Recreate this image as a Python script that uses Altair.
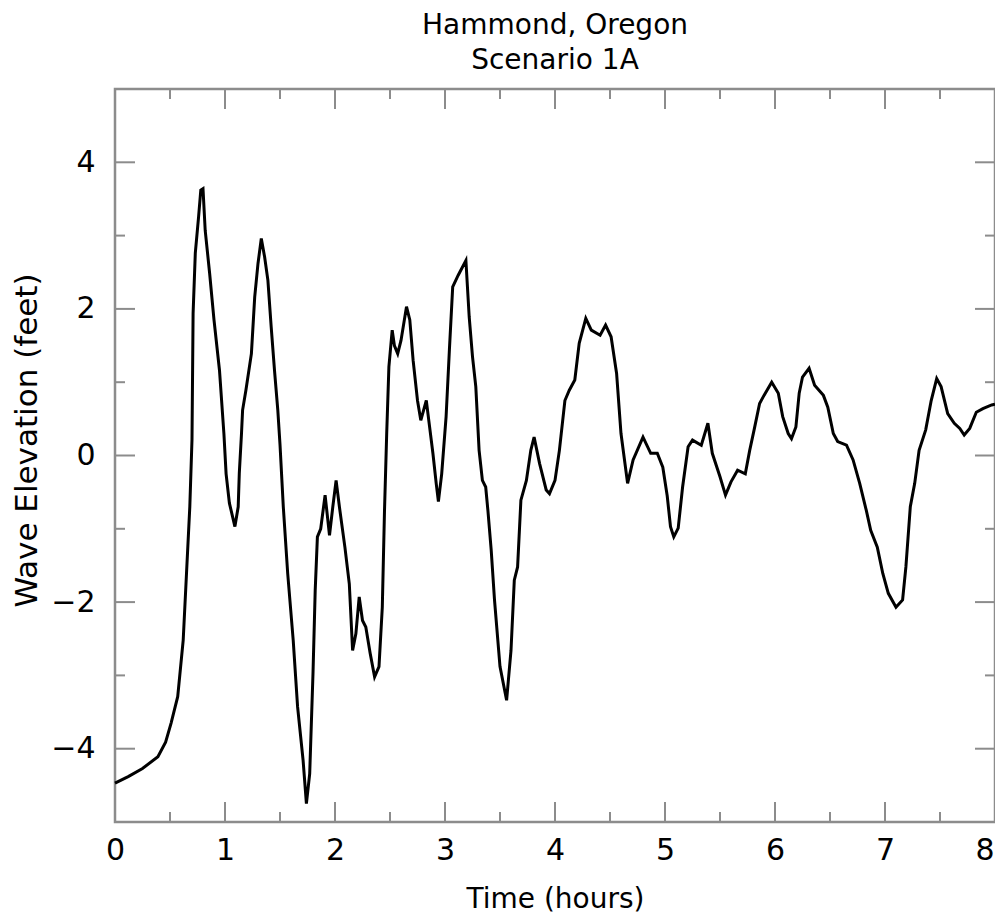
import altair as alt
import pandas as pd

# ---- data ----
time_h = [0.00, 0.12, 0.25, 0.39, 0.46, 0.51, 0.57, 0.62, 0.65, 0.68, 0.70, 0.71, 0.73, 0.76, 0.78, 0.80,
          0.82, 0.86, 0.90, 0.95, 0.99, 1.01, 1.04, 1.09, 1.12, 1.13, 1.15, 1.16, 1.19, 1.24, 1.27, 1.30,
          1.33, 1.36, 1.39, 1.42, 1.45, 1.48, 1.50, 1.53, 1.57, 1.62, 1.66, 1.71, 1.74, 1.77, 1.80, 1.82,
          1.84, 1.87, 1.91, 1.95, 1.98, 2.01, 2.04, 2.09, 2.13, 2.16, 2.19, 2.22, 2.25, 2.28, 2.32, 2.36,
          2.40, 2.43, 2.45, 2.47, 2.49, 2.52, 2.54, 2.57, 2.60, 2.65, 2.68, 2.71, 2.75, 2.78, 2.83, 2.86,
          2.89, 2.92, 2.94, 2.97, 3.01, 3.04, 3.07, 3.12, 3.19, 3.22, 3.25, 3.28, 3.31, 3.34, 3.37, 3.39,
          3.42, 3.45, 3.50, 3.56, 3.60, 3.63, 3.66, 3.69, 3.74, 3.78, 3.81, 3.86, 3.92, 3.95, 4.00, 4.04,
          4.09, 4.13, 4.18, 4.22, 4.28, 4.33, 4.41, 4.46, 4.51, 4.56, 4.60, 4.66, 4.71, 4.80, 4.87, 4.93,
          4.98, 5.02, 5.05, 5.08, 5.12, 5.16, 5.21, 5.25, 5.33, 5.39, 5.43, 5.50, 5.55, 5.60, 5.66, 5.73,
          5.77, 5.81, 5.86, 5.90, 5.97, 6.03, 6.07, 6.12, 6.15, 6.19, 6.22, 6.25, 6.31, 6.36, 6.44, 6.48,
          6.53, 6.57, 6.65, 6.71, 6.77, 6.83, 6.87, 6.93, 6.98, 7.03, 7.10, 7.16, 7.19, 7.23, 7.27, 7.31,
          7.37, 7.42, 7.47, 7.51, 7.57, 7.63, 7.68, 7.72, 7.77, 7.83, 7.89, 7.97, 8.00]
elevation_ft = [-4.47, -4.38, -4.27, -4.11, -3.91, -3.65, -3.29, -2.52, -1.61, -0.70, 0.22, 1.94, 2.76, 3.26, 3.62, 3.64,
                3.07, 2.49, 1.85, 1.16, 0.30, -0.25, -0.65, -0.97, -0.70, -0.24, 0.30, 0.62, 0.89, 1.39, 2.16, 2.62,
                2.96, 2.71, 2.39, 1.75, 1.16, 0.62, 0.15, -0.70, -1.61, -2.52, -3.43, -4.16, -4.75, -4.34, -2.97, -1.84,
                -1.11, -1.00, -0.54, -1.09, -0.70, -0.34, -0.70, -1.25, -1.75, -2.66, -2.43, -1.93, -2.25, -2.34, -2.70, -3.02,
                -2.88, -2.07, -0.75, 0.30, 1.21, 1.71, 1.50, 1.39, 1.57, 2.03, 1.85, 1.30, 0.75, 0.48, 0.75, 0.39,
                0.03, -0.38, -0.63, -0.25, 0.53, 1.44, 2.30, 2.46, 2.66, 1.89, 1.35, 0.94, 0.07, -0.34, -0.43, -0.75,
                -1.29, -1.97, -2.88, -3.34, -2.66, -1.70, -1.52, -0.61, -0.34, 0.07, 0.25, -0.11, -0.47, -0.52, -0.34, 0.07,
                0.75, 0.89, 1.03, 1.53, 1.87, 1.71, 1.64, 1.78, 1.62, 1.12, 0.30, -0.38, -0.06, 0.25, 0.03, 0.03,
                -0.16, -0.55, -0.97, -1.11, -0.99, -0.43, 0.12, 0.21, 0.14, 0.44, 0.03, -0.29, -0.54, -0.36, -0.20, -0.25,
                0.07, 0.35, 0.71, 0.82, 1.00, 0.85, 0.53, 0.30, 0.23, 0.39, 0.85, 1.07, 1.19, 0.96, 0.82, 0.66,
                0.30, 0.19, 0.14, -0.06, -0.38, -0.75, -1.02, -1.25, -1.61, -1.88, -2.07, -1.97, -1.52, -0.70, -0.38, 0.07,
                0.35, 0.75, 1.05, 0.94, 0.57, 0.44, 0.37, 0.28, 0.37, 0.59, 0.64, 0.69, 0.70]

x_major_ticks = [0, 1, 2, 3, 4, 5, 6, 7, 8]
x_minor_ticks = [0.5, 1.5, 2.5, 3.5, 4.5, 5.5, 6.5, 7.5]
y_major_ticks = [-4, -2, 0, 2, 4]
y_minor_ticks = [-3, -1, 1, 3]

title_lines = ["Hammond, Oregon", "Scenario 1A"]
x_title = "Time (hours)"
y_title = "Wave Elevation (feet)"

# ---- layout / style ----
W, H = 880, 733
GRAY = "#8c8c8c"
FONT = "DejaVu Sans"
MAJ, MIN = 20, 10

df = pd.DataFrame({"t": time_h, "v": elevation_ft})
xs = alt.Scale(domain=[0, 8], nice=False, zero=False)
ys = alt.Scale(domain=[-5, 5], nice=False, zero=False)

xmaj = pd.DataFrame({"t": x_major_ticks})
xmin = pd.DataFrame({"t": x_minor_ticks})
ymaj = pd.DataFrame({"v": y_major_ticks})
ymin = pd.DataFrame({"v": y_minor_ticks})

x_axis = alt.Axis(values=x_major_ticks, format="d", title=x_title, labelPadding=13,
                  labelFlush=False,
                  labelAlign=alt.ExprRef("datum.value == 8 ? 'right' : 'center'"),
                  labelOffset=alt.ExprRef("datum.value == 8 ? -1 : 0"),
                  titleY=85, titleBaseline="alphabetic", titleFontSize=28)
y_axis = alt.Axis(values=y_major_ticks, format="d", title=y_title, labelPadding=20,
                  labelFlush=False, titleX=-79, titleY=351, titleAngle=270,
                  titleBaseline="alphabetic", titleAlign="center", titleFontSize=31)


def xtick(data, y0, y1):
    return alt.Chart(data).mark_rule(color=GRAY, strokeWidth=2).encode(
        x=alt.X("t:Q", scale=xs, axis=x_axis), y=alt.value(y0), y2=alt.value(y1))


def ytick(data, x0, x1):
    return alt.Chart(data).mark_rule(color=GRAY, strokeWidth=2).encode(
        y=alt.Y("v:Q", scale=ys, axis=y_axis), x=alt.value(x0), x2=alt.value(x1))


ticks = [
    xtick(xmaj, H, H - MAJ), xtick(xmin, H, H - MIN),
    xtick(xmaj, 0, MAJ), xtick(xmin, 0, MIN),
    ytick(ymaj, 0, MAJ), ytick(ymin, 0, MIN),
    ytick(ymaj, W, W - MAJ), ytick(ymin, W, W - MIN),
]

line = alt.Chart(df).mark_line(color="black", strokeWidth=3).encode(
    x=alt.X("t:Q", scale=xs, axis=x_axis),
    y=alt.Y("v:Q", scale=ys, axis=y_axis),
    order="t:Q",
)

chart = alt.layer(line, *ticks).properties(
    width=W, height=H,
    title=alt.TitleParams(text=title_lines, fontSize=28, font=FONT, fontWeight="normal",
                          color="black", lineHeight=35, anchor="middle", frame="group",
                          baseline="alphabetic", offset=-9),
    autosize=alt.AutoSizeParams(type="none"),
    padding={"left": 107, "top": 81, "right": 0, "bottom": 93},
).configure_view(stroke=GRAY, strokeWidth=2.5).configure_axis(
    domain=False, ticks=False, grid=False,
    labelFont=FONT, labelFontSize=30, labelColor="black",
    titleFont=FONT, titleFontWeight="normal", titleColor="black",
)

chart.save("out.html", embed_options={"renderer": "svg", "actions": False})
